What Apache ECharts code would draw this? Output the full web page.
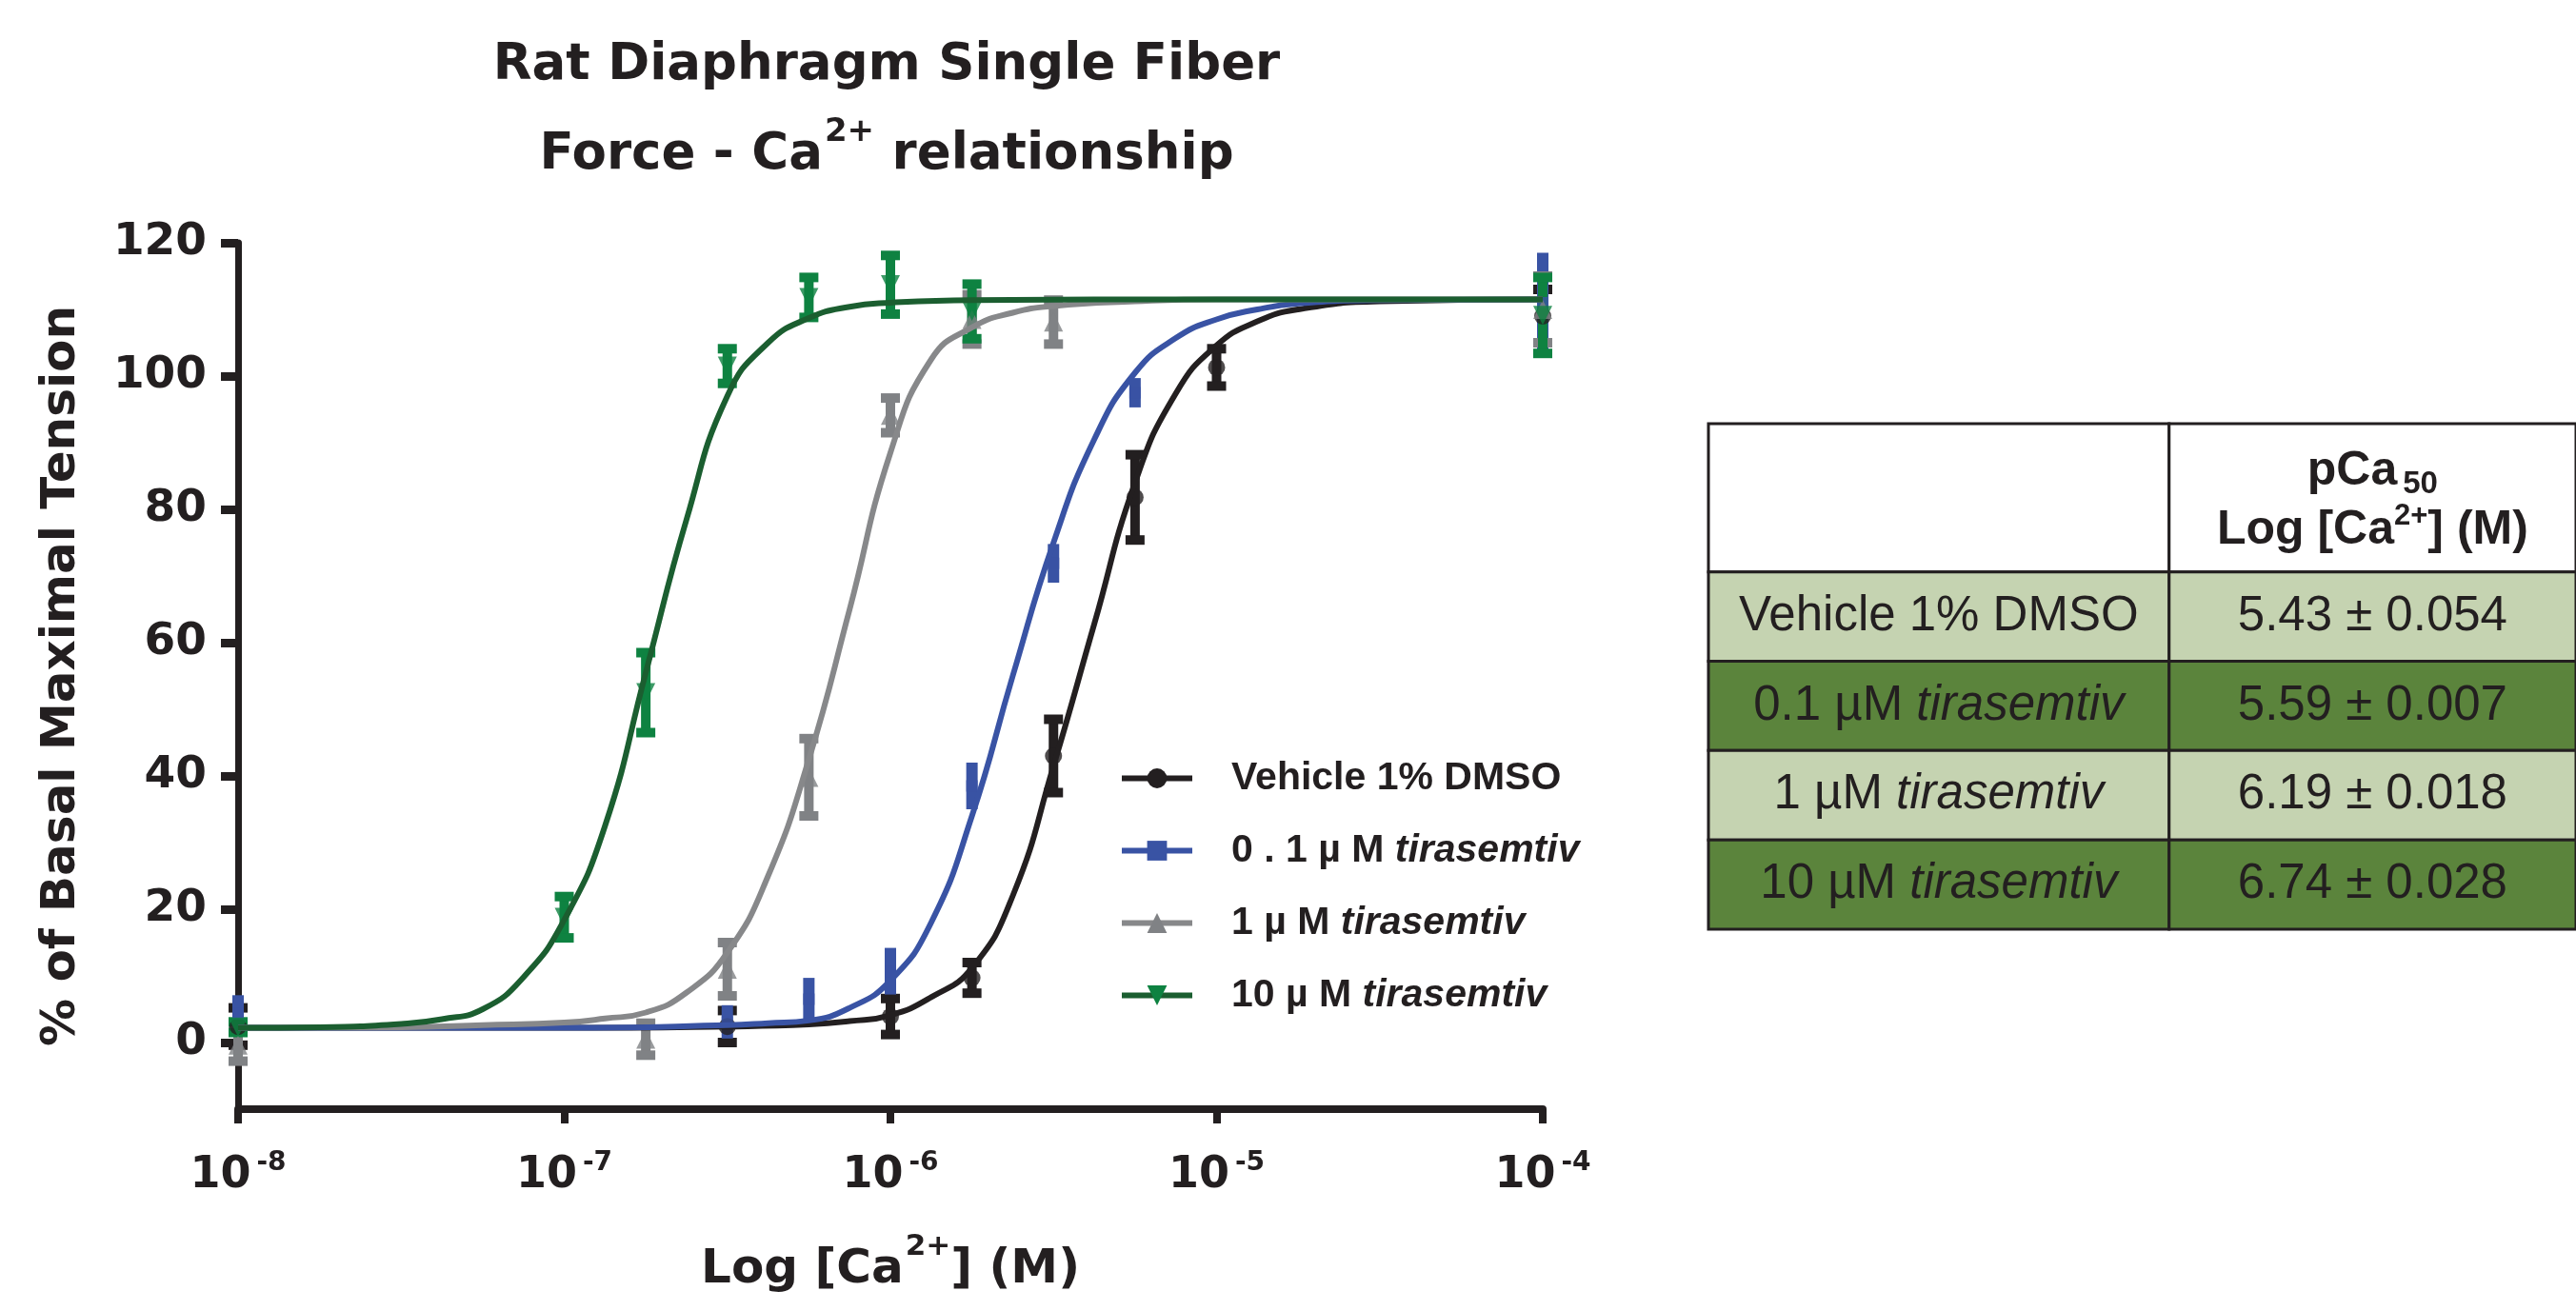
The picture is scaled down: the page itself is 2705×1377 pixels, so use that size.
<!DOCTYPE html>
<html>
<head>
<meta charset="utf-8">
<title>Rat Diaphragm Single Fiber</title>
<script src="https://cdn.jsdelivr.net/npm/echarts@6/dist/echarts.min.js"></script>
<style>
  html, body { margin: 0; padding: 0; background: #fff; }
  #chart { width: 2705px; height: 1377px; }
</style>
</head>
<body>
<div id="chart"></div>
<script>
// x values are log10 [Ca2+] (M), y values are % of basal maximal tension
var seriesNames = ['Vehicle 1% DMSO', '0 . 1 µ M tirasemtiv', '1 µ M tirasemtiv', '10 µ M tirasemtiv'];

// measured points (mean +/- sem)
var vehicleX = [-8, -6.5, -6, -5.75, -5.5, -5.25, -5, -4];
var vehicleMean = [2.4, 2.4, 3.9, 9.7, 43, 81.8, 101.3, 109];
var vehicleSem = [2.8, 2.4, 2.7, 2.3, 5.5, 6.4, 2.8, 4];

var tira01X = [-8, -6.5, -6.25, -6, -5.75, -5.5, -5.25, -4];
var tira01Mean = [4.3, 3.1, 6.5, 10.7, 38.5, 71.9, 97.5, 111];
var tira01Sem = [2.8, 2.5, 3.2, 3.5, 3.5, 2.9, 2.2, 7.5];

var tira1X = [-8, -6.75, -6.5, -6.25, -6, -5.75, -5.5, -4];
var tira1Mean = [-0.4, 0.5, 11, 39.8, 94.1, 108.5, 108.1, 110];
var tira1Sem = [2.4, 2.4, 4, 5.8, 2.6, 3.7, 3.3, 5];

var tira10X = [-8, -7, -6.75, -6.5, -6.25, -6, -5.75, -4];
var tira10Mean = [2.3, 18.8, 52.5, 101.5, 111.8, 113.7, 109.7, 109.1];
var tira10Sem = [0.8, 3.1, 6, 2.6, 3, 4.4, 4.1, 5.7];

// fitted curves
var vehicleFit = [[-8, 2.2], [-7, 2.2], [-6.5, 2.4], [-6.25, 2.7], [-6.125, 3.2], [-6, 4.1], [-5.875, 6.8],
  [-5.75, 11.2], [-5.625, 22], [-5.5, 41.5], [-5.375, 62.8], [-5.25, 84], [-5.125, 97.4], [-5, 104.6],
  [-4.875, 108.2], [-4.75, 110], [-4.5, 111.2], [-4, 111.5]];
var tira01Fit = [[-8, 2.2], [-7, 2.2], [-6.5, 2.6], [-6.375, 2.9], [-6.25, 3.3], [-6.125, 5.2], [-6, 9.3],
  [-5.875, 18], [-5.75, 34], [-5.625, 55], [-5.5, 75], [-5.375, 90.5], [-5.25, 100.5], [-5.125, 105.7],
  [-5, 108.5], [-4.875, 110], [-4.75, 110.9], [-4.5, 111.4], [-4, 111.5]];
var tira1Fit = [[-8, 2.2], [-7.5, 2.3], [-7.25, 2.6], [-7, 3], [-6.875, 3.6], [-6.75, 4.5], [-6.625, 7.5],
  [-6.5, 13.5], [-6.375, 25], [-6.25, 42.5], [-6.125, 65], [-6, 88.5], [-5.875, 102.5], [-5.75, 107.3],
  [-5.625, 109.5], [-5.5, 110.5], [-5.25, 111.2], [-5, 111.5], [-4, 111.5]];
var tira10Fit = [[-8, 2.2], [-7.75, 2.3], [-7.5, 2.8], [-7.375, 3.5], [-7.25, 5], [-7.125, 9.8], [-7, 18.4],
  [-6.875, 32.5], [-6.75, 55.5], [-6.625, 78.5], [-6.5, 97], [-6.375, 105], [-6.25, 108.7],
  [-6.125, 110.4], [-6, 111], [-5.75, 111.4], [-5, 111.5], [-4, 111.5]];

var yTicks = [0, 20, 40, 60, 80, 100, 120];

// pCa50 table
var tableRowLabels = ['Vehicle 1% DMSO', '0.1 µM tirasemtiv', '1 µM tirasemtiv', '10 µM tirasemtiv'];
var tablePCa50 = ['5.43 ± 0.054', '5.59 ± 0.007', '6.19 ± 0.018', '6.74 ± 0.028'];

var ink = '#231f20';
var boldFont = 'DejaVu Sans';
var plainFont = 'Liberation Sans';
var lightFill = '#c5d3b1';
var darkFill = '#5b843c';
var headerH = 1.66;
var colSplit = 0.531;

function errorBars(name, xs, means, sems, color, capped, stemW) {
  return {
    type: 'custom',
    name: name + ' SEM',
    silent: true,
    data: xs.map(function (x, i) { return [x, means[i], sems[i]]; }),
    encode: { x: 0, y: 1 },
    renderItem: function (params, api) {
      var x = api.value(0), m = api.value(1), e = api.value(2);
      var hi = api.coord([x, m + e]);
      var lo = api.coord([x, m - e]);
      var kids = [{
        type: 'line',
        shape: { x1: hi[0], y1: hi[1], x2: lo[0], y2: lo[1] },
        style: { stroke: color, lineWidth: stemW }
      }];
      if (capped) {
        [hi, lo].forEach(function (p) {
          kids.push({ type: 'rect', shape: { x: p[0] - 10, y: p[1] - 5, width: 20, height: 10 }, style: { fill: color } });
        });
      }
      return { type: 'group', children: kids };
    }
  };
}

function markers(name, xs, means, color, symbol, size, rotate) {
  return {
    type: 'scatter',
    name: name + ' mean',
    silent: true,
    symbol: symbol,
    symbolSize: size,
    symbolRotate: rotate || 0,
    itemStyle: { color: color },
    data: xs.map(function (x, i) { return [x, means[i]]; })
  };
}

function fitLine(name, fit, lineColor, markColor, symbol, rotate) {
  return {
    type: 'line',
    name: name,
    silent: true,
    data: fit,
    smooth: 0.5,
    showSymbol: false,
    symbol: symbol,
    symbolSize: 22,
    symbolRotate: rotate || 0,
    itemStyle: { color: markColor },
    lineStyle: { color: lineColor, width: 6 }
  };
}

function italicize(s) {
  return s.replace('tirasemtiv', '{i|tirasemtiv}');
}

var cellRich = {
  i: { fontSize: 51, fontFamily: plainFont, fontWeight: 'normal', fontStyle: 'italic', fill: ink }
};
var headRich = {
  h: { fontSize: 50, fontFamily: plainFont, fontWeight: 'bold', fontStyle: 'normal', fill: ink, lineHeight: 62 },
  sub: { fontSize: 33, fontFamily: plainFont, fontWeight: 'bold', fontStyle: 'normal', fill: ink, padding: [28, 0, 0, 6] },
  sup: { fontSize: 31, fontFamily: plainFont, fontWeight: 'bold', fontStyle: 'normal', fill: ink, padding: [0, 0, 28, 0] }
};
var headerText = '{h|pCa}{sub|50}\n{h|Log [Ca}{sup|2+}{h|] (M)}';

var tableData = [[0, headerH]].concat(tableRowLabels.map(function (_, i) {
  return [headerH + i, headerH + i + 1];
}));

var chart = echarts.init(document.getElementById('chart'), null, { renderer: 'canvas' });

chart.setOption({
  animation: false,
  backgroundColor: '#ffffff',
  textStyle: { fontFamily: boldFont, color: ink },
  graphic: [{
    type: 'text',
    x: 931,
    y: 116,
    style: {
      text: '{a|Rat Diaphragm Single Fiber}\n{a|Force - Ca}{s|2+}{a| relationship}',
      align: 'center',
      verticalAlign: 'middle',
      fill: ink,
      rich: {
        a: { fontSize: 53, fontFamily: boldFont, fontWeight: 'bold', fontStyle: 'normal', fill: ink, lineHeight: 94 },
        s: { fontSize: 34, fontFamily: boldFont, fontWeight: 'bold', fontStyle: 'normal', fill: ink, padding: [0, 0, 48, 2] }
      }
    }
  }],
  grid: [
    { left: 250, top: 255, width: 1370, height: 910 },
    { left: 1794, top: 445, width: 929, height: 531 }
  ],
  xAxis: [{
    type: 'value',
    gridIndex: 0,
    min: -8,
    max: -4,
    interval: 1,
    splitLine: { show: false },
    axisLine: { onZero: false, lineStyle: { color: ink, width: 8 } },
    axisTick: { length: 15, lineStyle: { color: ink, width: 8 } },
    axisLabel: {
      margin: 42,
      formatter: function (v) { return '{b|10}{s|' + v + '}'; },
      rich: {
        b: { fontSize: 46, fontWeight: 'bold', fontFamily: boldFont, color: ink, lineHeight: 56 },
        s: { fontSize: 28, fontWeight: 'bold', fontFamily: boldFont, color: ink, padding: [0, 0, 26, 6] }
      }
    },
    name: '{n|Log [Ca}{s|2+}{n|] (M)}',
    nameLocation: 'middle',
    nameGap: 129,
    nameTextStyle: {
      rich: {
        n: { fontSize: 50, fontWeight: 'bold', fontFamily: boldFont, color: ink, lineHeight: 60 },
        s: { fontSize: 31, fontWeight: 'bold', fontFamily: boldFont, color: ink, padding: [0, 0, 50, 2] }
      }
    }
  }, {
    type: 'value', gridIndex: 1, min: 0, max: 1, show: false
  }],
  yAxis: [{
    type: 'value',
    gridIndex: 0,
    min: -10,
    max: 120,
    splitLine: { show: false },
    axisLine: { show: true, onZero: false, lineStyle: { color: ink, width: 7 } },
    axisTick: { show: true, length: 18, customValues: yTicks, lineStyle: { color: ink, width: 9 } },
    axisLabel: {
      margin: 33,
      customValues: yTicks,
      fontSize: 47,
      fontWeight: 'bold',
      fontFamily: boldFont,
      color: ink
    },
    name: '% of Basal Maximal Tension',
    nameLocation: 'middle',
    nameRotate: 90,
    nameGap: 160,
    nameTextStyle: { fontSize: 50, fontWeight: 'bold', fontFamily: boldFont, color: ink }
  }, {
    type: 'value', gridIndex: 1, min: 0, max: headerH + tableRowLabels.length, inverse: true, show: false
  }],
  legend: {
    orient: 'vertical',
    left: 1170,
    top: 792,
    itemWidth: 74,
    itemHeight: 26,
    itemGap: 35,
    selectedMode: false,
    data: seriesNames,
    lineStyle: { width: 6 },
    formatter: function (name) { return italicize(name); },
    textStyle: {
      fontSize: 41,
      lineHeight: 41,
      fontWeight: 'bold',
      fontFamily: plainFont,
      color: ink,
      padding: [0, 0, 0, 36],
      rich: {
        i: { fontSize: 41, lineHeight: 41, fontWeight: 'bold', fontStyle: 'italic', fontFamily: plainFont, color: ink }
      }
    }
  },
  series: [
    errorBars(seriesNames[0], vehicleX, vehicleMean, vehicleSem, ink, true, 10),
    markers(seriesNames[0], vehicleX, vehicleMean, ink, 'circle', 18),
    fitLine(seriesNames[0], vehicleFit, ink, ink, 'circle'),

    errorBars(seriesNames[1], tira01X, tira01Mean, tira01Sem, '#3953a4', false, 12),
    markers(seriesNames[1], tira01X, tira01Mean, '#3953a4', 'rect', 12),
    fitLine(seriesNames[1], tira01Fit, '#3953a4', '#3953a4', 'rect'),

    errorBars(seriesNames[2], tira1X, tira1Mean, tira1Sem, '#808285', true, 10),
    markers(seriesNames[2], tira1X, tira1Mean, '#808285', 'triangle', 20),
    fitLine(seriesNames[2], tira1Fit, '#87888a', '#808285', 'triangle'),

    errorBars(seriesNames[3], tira10X, tira10Mean, tira10Sem, '#0e8241', true, 10),
    markers(seriesNames[3], tira10X, tira10Mean, '#0e8241', 'triangle', 20, 180),
    fitLine(seriesNames[3], tira10Fit, '#1b5e30', '#0e8241', 'triangle', 180),

    {
      type: 'custom',
      name: 'pCa50 table',
      xAxisIndex: 1,
      yAxisIndex: 1,
      silent: true,
      data: tableData,
      encode: { x: -1, y: [0, 1] },
      renderItem: function (params, api) {
        var i = params.dataIndex;
        var tl = api.coord([0, api.value(0)]);
        var mid = api.coord([colSplit, api.value(1)]);
        var br = api.coord([1, api.value(1)]);
        var cy = (tl[1] + br[1]) / 2;
        var fill = i === 0 ? '#ffffff' : (i % 2 ? lightFill : darkFill);
        var kids = [
          { type: 'rect', shape: { x: tl[0], y: tl[1], width: mid[0] - tl[0], height: br[1] - tl[1] },
            style: { fill: fill, stroke: ink, lineWidth: 3 } },
          { type: 'rect', shape: { x: mid[0], y: tl[1], width: br[0] - mid[0], height: br[1] - tl[1] },
            style: { fill: fill, stroke: ink, lineWidth: 3 } }
        ];
        if (i === 0) {
          kids.push({ type: 'text', style: {
            x: (mid[0] + br[0]) / 2, y: cy + 3, text: headerText, rich: headRich,
            align: 'center', verticalAlign: 'middle', fill: ink
          } });
        } else {
          var cellStyle = function (x, text) {
            return {
              x: x, y: cy, text: text, rich: cellRich,
              fontSize: 51, fontFamily: plainFont, fontWeight: 'normal', fontStyle: 'normal',
              align: 'center', verticalAlign: 'middle', fill: ink
            };
          };
          kids.push({ type: 'text', style: cellStyle((tl[0] + mid[0]) / 2, italicize(tableRowLabels[i - 1])) });
          kids.push({ type: 'text', style: cellStyle((mid[0] + br[0]) / 2, tablePCa50[i - 1]) });
        }
        return { type: 'group', children: kids };
      }
    }
  ]
});
</script>
</body>
</html>
